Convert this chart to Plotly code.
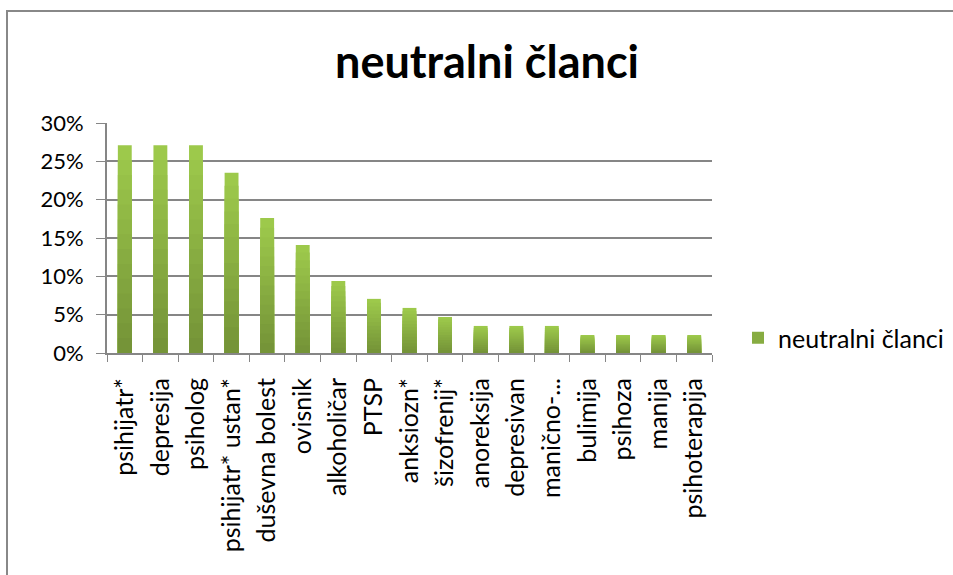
import plotly.graph_objects as go

categories = ["psihijatr*", "depresija", "psiholog", "psihijatr* ustan*", "duševna bolest",
              "ovisnik", "alkoholičar", "PTSP", "anksiozn*", "šizofrenij*", "anoreksija",
              "depresivan", "manično-...", "bulimija", "psihoza", "manija", "psihoterapija"]
values = [0.271, 0.271, 0.271, 0.235, 0.176, 0.141, 0.094, 0.0706, 0.0588, 0.047,
          0.0353, 0.0353, 0.0353, 0.0235, 0.0235, 0.0235, 0.0235]
series_name = "neutralni članci"
y_ticks = [0, 0.05, 0.10, 0.15, 0.20, 0.25, 0.30]
y_tick_labels = ["0%", "5%", "10%", "15%", "20%", "25%", "30%"]

FONT = "Lato, Calibri, sans-serif"
top_col = (157, 201, 75)
bot_col = (117, 148, 56)
N = 14

fig = go.Figure()
for k in range(N):
    f = 1 - k / N
    t = k / (N - 1)
    c = tuple(round(top_col[i] + (bot_col[i] - top_col[i]) * t) for i in range(3))
    fig.add_trace(go.Bar(
        x=categories, y=[v * f for v in values], width=0.39,
        marker=dict(color="rgb(%d,%d,%d)" % c, line=dict(width=0)),
        name=series_name, showlegend=(k == N // 2), hoverinfo="skip" if k else None,
    ))

W, H = 953, 575
L, R, T, B = 107, 712, 123, 353
def px(x): return (x - L) / (R - L)
def py(y): return (B - y) / (B - T)

border = "#888888"
shapes = [
    dict(type="line", xref="paper", yref="paper", x0=px(7), x1=px(7), y0=py(10), y1=py(580),
         line=dict(color=border, width=2)),
    dict(type="line", xref="paper", yref="paper", x0=px(6), x1=px(953), y0=py(11), y1=py(11),
         line=dict(color=border, width=2)),
]

fig.update_layout(
    width=W, height=H, barmode="overlay", bargap=0.6,
    margin=dict(l=L, r=W - R, t=T, b=H - B, autoexpand=False),
    paper_bgcolor="white", plot_bgcolor="white",
    font=dict(family=FONT, size=24, color="#000000"),
    title=dict(text="<b>neutralni članci</b>", x=487 / W, xref="container", xanchor="center",
               y=1 - 62 / H, yref="container", yanchor="middle",
               font=dict(family=FONT, size=45, color="#000000")),
    xaxis=dict(type="category", tickangle=-90, ticks="outside", tickson="boundaries",
               ticklen=7, tickcolor="#868686", showline=True, linecolor="#868686", linewidth=2,
               showgrid=False, tickfont=dict(size=25, family=FONT), range=[-0.5, 16.5],
               ticklabelstandoff=13),
    yaxis=dict(range=[0, 0.30], tickvals=y_ticks, ticktext=y_tick_labels, ticks="outside",
               ticklen=9, tickcolor="#868686", showline=True, linecolor="#868686", linewidth=2,
               showgrid=True, gridcolor="#868686", gridwidth=2, zeroline=False,
               tickfont=dict(size=22, family=FONT), ticklabelstandoff=8),
    legend=dict(x=px(738), xanchor="left", y=py(338), yanchor="middle",
                font=dict(size=25, family=FONT), bgcolor="rgba(0,0,0,0)", itemwidth=30),
    shapes=shapes,
)

fig.write_html("out.html", config={"displayModeBar": False},
               post_script="document.body.style.margin='0px';document.body.style.padding='0px';document.body.style.overflow='hidden';")
